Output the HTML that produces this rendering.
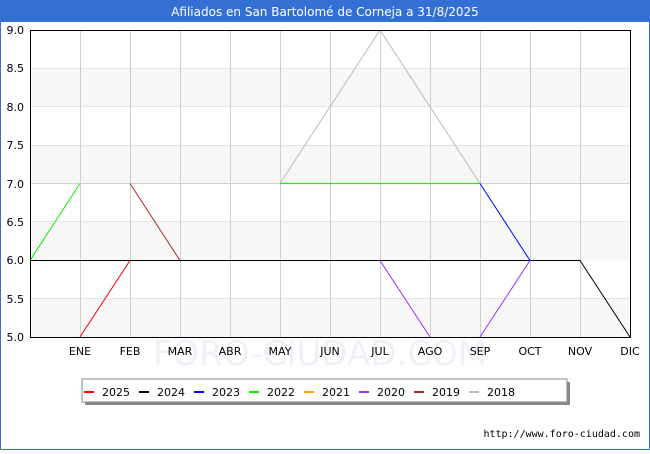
<!DOCTYPE html>
<html><head><style>
body{margin:0;width:650px;height:450px;overflow:hidden;background:#fff;font-family:"DejaVu Sans","Liberation Sans",sans-serif;}
</style></head><body>
<svg width="650" height="450" xmlns="http://www.w3.org/2000/svg" font-family="DejaVu Sans, Liberation Sans, sans-serif">
<rect x="0" y="0" width="650" height="450" fill="#fff" stroke="#3470d4" stroke-width="2"/>
<rect x="0" y="0" width="650" height="22" fill="#3470d4"/>
<text x="325" y="16" fill="#fff" font-size="12" text-anchor="middle">Afiliados en San Bartolomé de Corneja a 31/8/2025</text>
<g fill="#f7f7f7">
<rect x="30" y="68.4" width="600" height="38.4"/>
<rect x="30" y="145.1" width="600" height="38.4"/>
<rect x="30" y="221.9" width="600" height="38.4"/>
<rect x="30" y="298.6" width="600" height="38.4"/>
</g>
<g stroke="#e4e4e4" stroke-width="1">
<line x1="30" y1="68.5" x2="630" y2="68.5"/><line x1="30" y1="106.5" x2="630" y2="106.5"/>
<line x1="30" y1="145.5" x2="630" y2="145.5"/>
<line x1="30" y1="221.5" x2="630" y2="221.5"/>
<line x1="30" y1="298.5" x2="630" y2="298.5"/>
</g>
<g stroke="#d0d0d0" stroke-width="1">
<line x1="80.5" y1="30" x2="80.5" y2="337"/><line x1="130.5" y1="30" x2="130.5" y2="337"/><line x1="180.5" y1="30" x2="180.5" y2="337"/>
<line x1="230.5" y1="30" x2="230.5" y2="337"/><line x1="280.5" y1="30" x2="280.5" y2="337"/><line x1="330.5" y1="30" x2="330.5" y2="337"/>
<line x1="380.5" y1="30" x2="380.5" y2="337"/><line x1="430.5" y1="30" x2="430.5" y2="337"/><line x1="480.5" y1="30" x2="480.5" y2="337"/>
<line x1="530.5" y1="30" x2="530.5" y2="337"/><line x1="580.5" y1="30" x2="580.5" y2="337"/>
<line x1="30" y1="183.5" x2="280" y2="183.5"/><line x1="480" y1="183.5" x2="630" y2="183.5"/>
</g>
<text x="320" y="365" font-size="34" fill="#f0f0f8" text-anchor="middle">FORO-CIUDAD.COM</text>
<g fill="none" stroke-width="1">
<polyline stroke="#bbb" points="280,183.5 380,30 480,183.5"/>
<polyline stroke="#000" points="30,260.5 580,260.5 630,337"/>
<polyline stroke="#a52a2a" points="130,183.5 180,260.5"/>
<polyline stroke="#00ee00" points="30,260.5 80,183.5"/>
<line x1="280" y1="183.5" x2="480" y2="183.5" stroke="#00ff00" stroke-width="1.3"/>
<polyline stroke="#0000ff" points="480,183.5 530,260.5"/>
<polyline stroke="#9b30ff" points="380,260.5 430,337"/>
<polyline stroke="#9b30ff" points="480,337 530,260.5"/>
<polyline stroke="#ff0000" points="80,337 130,260.5"/>
</g>
<rect x="30.5" y="30.5" width="600" height="307" fill="none" stroke="#000"/>
<g font-size="11" fill="#000" text-anchor="end">
<text x="24" y="34">9.0</text><text x="24" y="72">8.5</text><text x="24" y="111">8.0</text>
<text x="24" y="149">7.5</text><text x="24" y="188">7.0</text><text x="24" y="226">6.5</text>
<text x="24" y="264">6.0</text><text x="24" y="303">5.5</text><text x="24" y="341">5.0</text>
</g>
<g font-size="11" fill="#000" text-anchor="middle">
<text x="80" y="355">ENE</text><text x="130" y="355">FEB</text><text x="180" y="355">MAR</text>
<text x="230" y="355">ABR</text><text x="280" y="355">MAY</text><text x="330" y="355">JUN</text>
<text x="380" y="355">JUL</text><text x="430" y="355">AGO</text><text x="480" y="355">SEP</text>
<text x="530" y="355">OCT</text><text x="580" y="355">NOV</text><text x="630" y="355">DIC</text>
</g>
<rect x="85" y="382" width="485" height="23" fill="#888"/>
<rect x="82" y="379" width="485" height="23" fill="#fff" stroke="#888"/>
<g font-size="11" fill="#000">
<line x1="84" y1="392" x2="94" y2="392" stroke="#ff0000" stroke-width="2"/><text x="102" y="396">2025</text>
<line x1="139" y1="392" x2="149" y2="392" stroke="#000" stroke-width="2"/><text x="157" y="396">2024</text>
<line x1="194" y1="392" x2="204" y2="392" stroke="#0000ff" stroke-width="2"/><text x="212" y="396">2023</text>
<line x1="249" y1="392" x2="259" y2="392" stroke="#00ee00" stroke-width="2"/><text x="267" y="396">2022</text>
<line x1="304" y1="392" x2="314" y2="392" stroke="#ffa500" stroke-width="2"/><text x="322" y="396">2021</text>
<line x1="359" y1="392" x2="369" y2="392" stroke="#9b30ff" stroke-width="2"/><text x="377" y="396">2020</text>
<line x1="414" y1="392" x2="424" y2="392" stroke="#a52a2a" stroke-width="2"/><text x="432" y="396">2019</text>
<line x1="469" y1="392" x2="479" y2="392" stroke="#bbb" stroke-width="2"/><text x="487" y="396">2018</text>
</g>
<text x="640" y="437" font-size="10" fill="#000" text-anchor="end" font-family="DejaVu Sans Mono, Liberation Mono, monospace">http://www.foro-ciudad.com</text>
</svg>
</body></html>
